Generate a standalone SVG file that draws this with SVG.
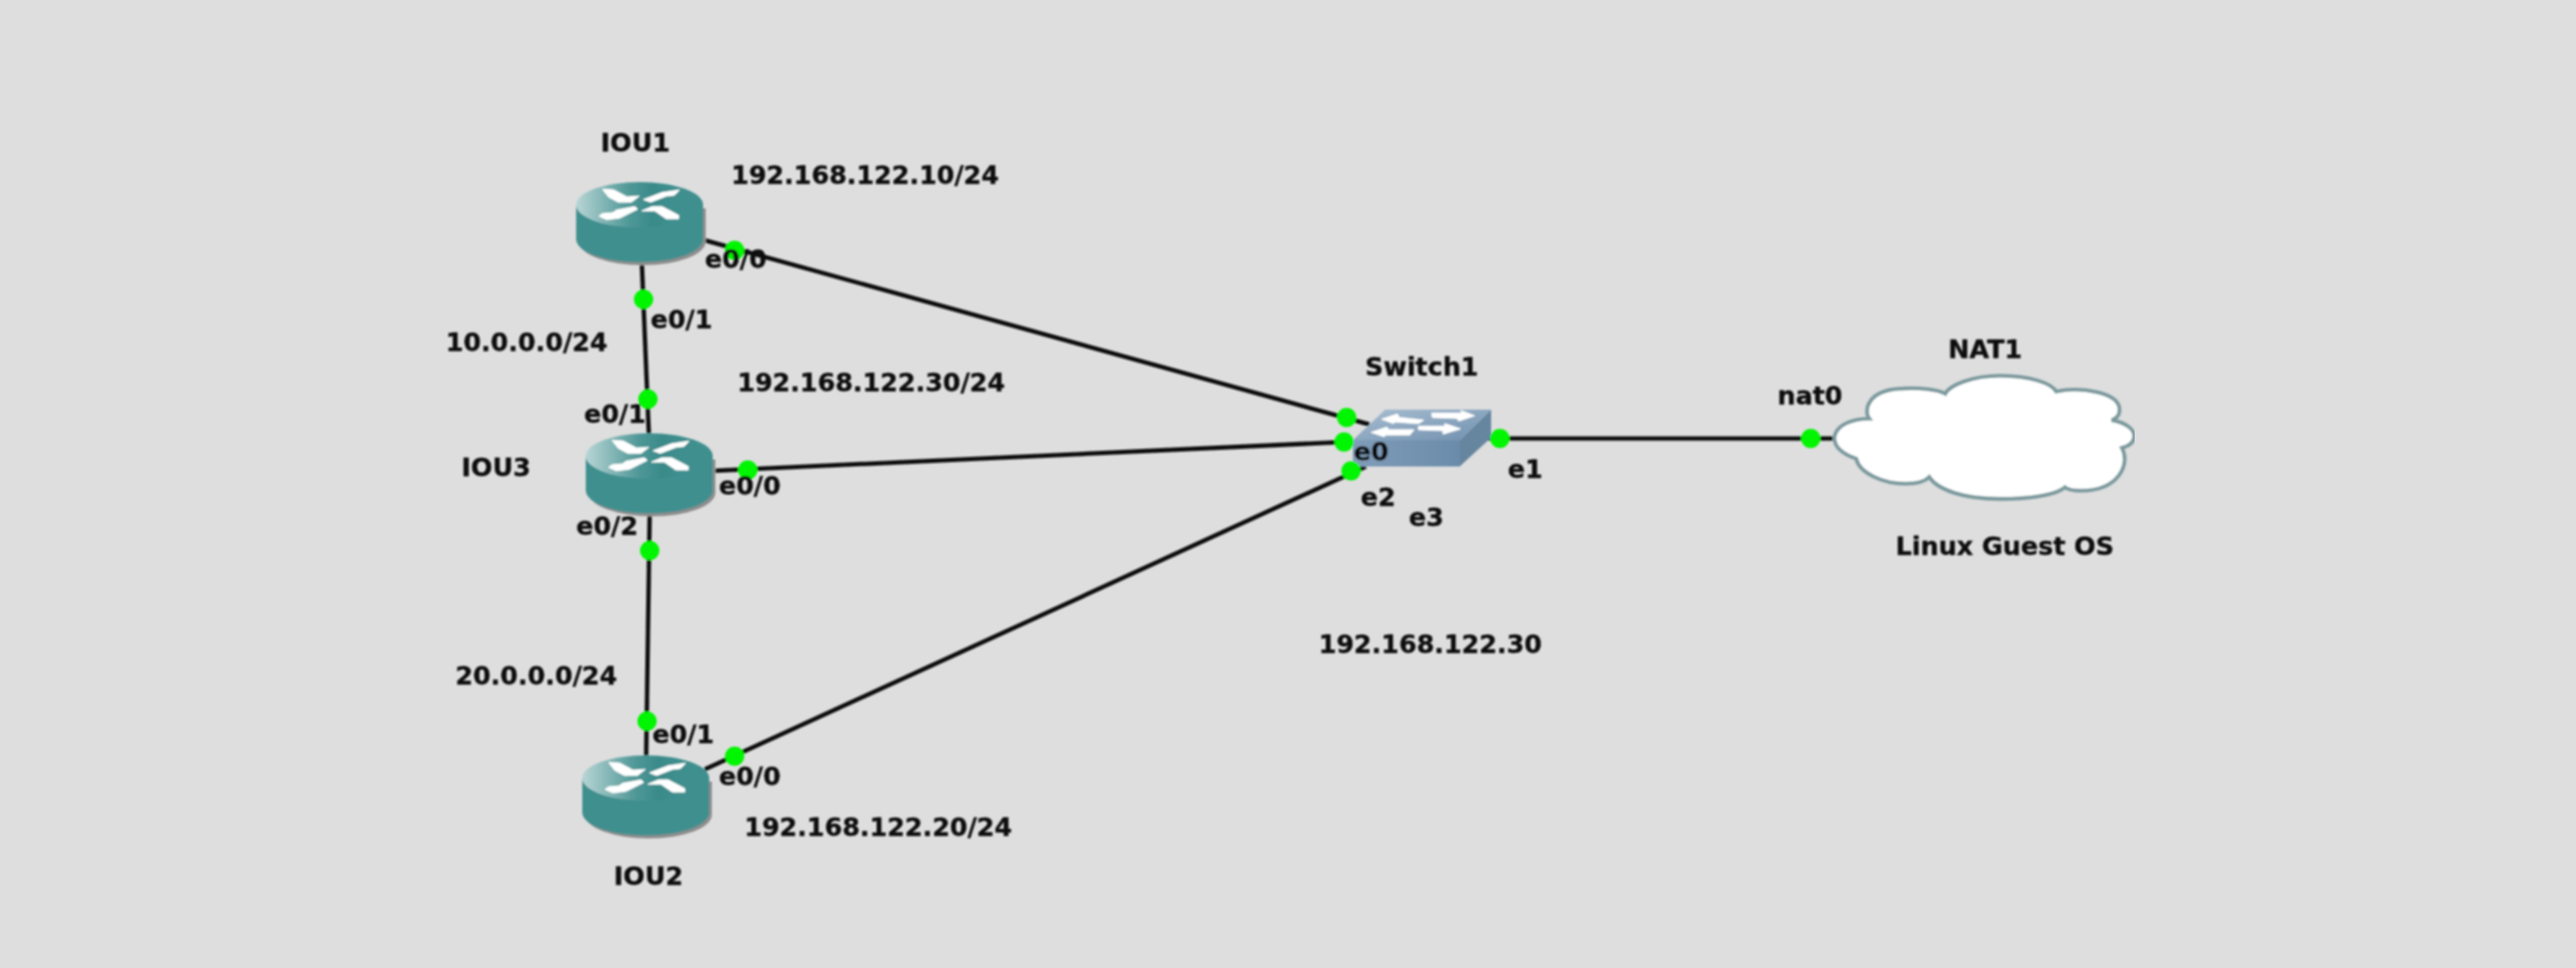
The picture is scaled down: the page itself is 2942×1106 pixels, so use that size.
<svg xmlns="http://www.w3.org/2000/svg" width="2942" height="1106" viewBox="0 0 2942 1106">
<style>
.bg{fill:#dedede}
.link{stroke:#111;stroke-width:5;fill:none}
.dot{fill:#00f500}
.lbl{font-family:"DejaVu Sans",sans-serif;font-weight:700;font-size:29px;fill:#0d0d0d;stroke:#0d0d0d;stroke-width:.4px}
.body{fill:#3f8f8f}
.arrow{fill:#fff;stroke:#fff;stroke-width:1;stroke-linejoin:round}
</style>
<defs>
<filter id="soft" x="0" y="0" width="100%" height="100%"><feGaussianBlur stdDeviation="0.8"/></filter>
<linearGradient id="rtop" x1="0" x2="1" y1="0" y2="0"><stop offset="0" stop-color="#b8d5d5"/><stop offset="0.42" stop-color="#4f9797"/><stop offset="0.6" stop-color="#3a8a8a"/><stop offset="0.75" stop-color="#3f8f8f"/><stop offset="1" stop-color="#3f8f8f"/></linearGradient>
<linearGradient id="stop" x1="0" x2="1" y1="0" y2="1"><stop offset="0" stop-color="#a9bfd2"/><stop offset="1" stop-color="#6f8fae"/></linearGradient>
<linearGradient id="sfront" x1="0" x2="1" y1="0" y2="0"><stop offset="0" stop-color="#7f9cb8"/><stop offset="1" stop-color="#6b8cab"/></linearGradient>
<g id="router">
<path d="M3 30V68C3 83 37 95 76 95S148 83 148 68V30Z" fill="#8d8d8d"/>
<path class="body" d="M0 26V65C0 80 32 91.500 72.500 91.500S145 80 145 65V26Z"/>
<ellipse cx="72.500" cy="26" rx="72.500" ry="26" fill="url(#rtop)"/>
<polygon class="arrow" points="30,8 43,9 58,17 72,16 63,23 48,23 37,17"/>
<polygon class="arrow" points="77,20 98,12 118,9 112,15 103,16 85,23"/>
<polygon class="arrow" points="67,28 70,31 50,41 35,43 26,39 30,36 42,35 46,32"/>
<polygon class="arrow" points="75,33 87,28 98,28 117,38 117,42 103,42 90,33"/>
</g>
</defs>
<rect class="bg" width="2942" height="1106"/>
<g filter="url(#soft)">
<g id="connectors">
<line class="link" x1="803" y1="274" x2="1564" y2="485"/>
<line class="link" x1="813" y1="538" x2="1535" y2="505"/>
<line class="link" x1="805" y1="879" x2="1560" y2="533"/>
<line class="link" x1="733" y1="300" x2="741" y2="495"/>
<line class="link" x1="742" y1="586" x2="738" y2="863"/>
<line class="link" x1="1700" y1="501" x2="2096" y2="501"/>
</g>
<g id="IOU1"><use href="#router" x="658" y="208"/></g>
<g id="IOU3"><use href="#router" x="669" y="495"/></g>
<g id="IOU2"><use href="#router" x="665" y="863"/></g>
<g id="Switch1">
<polygon points="1545,503 1667,503 1667,533 1545,533" fill="url(#sfront)"/>
<polygon points="1703,468 1703,500 1667,533 1667,503" fill="#66859f"/>
<polygon points="1582,468 1703,468 1667,503 1545,503" fill="url(#stop)"/>
<polygon class="arrow" points="1578,479 1596,473 1598,477 1626,480 1620,484 1592,482 1592,484"/>
<polygon class="arrow" points="1635,472 1670,472 1668,469 1684,475 1666,481 1664,478 1636,477"/>
<polygon class="arrow" points="1566,494 1584,488 1586,491 1615,491 1610,497 1582,497 1581,499"/>
<polygon class="arrow" points="1620,487 1650,487 1650,484 1668,490 1648,496 1648,492 1620,491"/>
</g>
<g id="NAT1">
<path transform="translate(2000 370) scale(.33333)" d="M285 390C290 350 340 325 405 325C385 300 395 225 520 222C570 218 640 225 665 240C680 210 760 178 850 178C960 178 1030 205 1045 232C1130 215 1262 235 1262 295C1262 315 1250 325 1235 330C1290 340 1312 365 1312 385C1312 410 1290 420 1270 425C1300 480 1260 572 1130 572C1110 572 1085 568 1075 560C1040 590 940 600 850 600C730 600 640 570 610 525C590 545 560 548 530 548C450 548 370 510 360 462C310 445 285 420 285 390Z" fill="#fff" stroke="#7b9a9e" stroke-width="13"/>
</g>
<g id="ports">
<circle class="dot" cx="839" cy="286" r="11"/>
<circle class="dot" cx="735" cy="342" r="11"/>
<circle class="dot" cx="740" cy="456" r="11"/>
<circle class="dot" cx="854" cy="537" r="11"/>
<circle class="dot" cx="742" cy="629" r="11"/>
<circle class="dot" cx="739" cy="824" r="11"/>
<circle class="dot" cx="839" cy="864" r="11"/>
<circle class="dot" cx="1538" cy="477" r="11"/>
<circle class="dot" cx="1535" cy="505" r="11"/>
<circle class="dot" cx="1543" cy="538" r="11"/>
<circle class="dot" cx="1713" cy="501" r="11"/>
<circle class="dot" cx="2068" cy="501" r="11"/>
</g>
<g id="labels">
<text class="lbl" x="686" y="173">IOU1</text>
<text class="lbl" x="835" y="210">192.168.122.10/24</text>
<text class="lbl" x="805" y="306">e0/0</text>
<text class="lbl" x="743" y="375">e0/1</text>
<text class="lbl" x="509" y="401">10.0.0.0/24</text>
<text class="lbl" x="842" y="447">192.168.122.30/24</text>
<text class="lbl" x="667" y="483">e0/1</text>
<text class="lbl" x="527" y="544">IOU3</text>
<text class="lbl" x="821" y="565">e0/0</text>
<text class="lbl" x="658" y="611">e0/2</text>
<text class="lbl" x="520" y="782">20.0.0.0/24</text>
<text class="lbl" x="745" y="849">e0/1</text>
<text class="lbl" x="821" y="897">e0/0</text>
<text class="lbl" x="850" y="955">192.168.122.20/24</text>
<text class="lbl" x="701" y="1011">IOU2</text>
<text class="lbl" x="1559" y="429">Switch1</text>
<text class="lbl" x="1546" y="526">e0</text>
<text class="lbl" x="1722" y="546">e1</text>
<text class="lbl" x="1554" y="578">e2</text>
<text class="lbl" x="1609" y="601">e3</text>
<text class="lbl" x="1506" y="746">192.168.122.30</text>
<text class="lbl" x="2225" y="409">NAT1</text>
<text class="lbl" x="2030" y="462">nat0</text>
<text class="lbl" x="2165" y="634">Linux Guest OS</text>
</g>
</g>
</svg>
